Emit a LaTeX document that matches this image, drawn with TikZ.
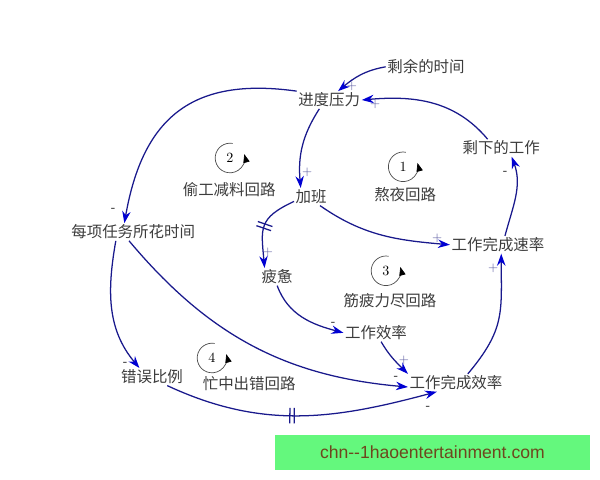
\documentclass[tikz,border=0pt]{standalone}
\usepackage{fontspec}
\usepackage{xcolor}
\usepackage{tikz}
\usetikzlibrary{positioning,arrows.meta,calc}
\newfontfamily\cjk{Noto Sans CJK SC}
\newfontfamily\wmfont{Liberation Sans}
\definecolor{navy}{RGB}{25,25,140}
\definecolor{tipblue}{RGB}{0,0,210}
\definecolor{txt}{RGB}{60,60,60}
\definecolor{sgnp}{RGB}{90,90,160}
\definecolor{wmgreen}{RGB}{100,248,125}
\definecolor{wmtext}{RGB}{110,70,30}

\begin{document}
\begin{tikzpicture}[every node/.style={font=\cjk\fontsize{11}{13}\selectfont},
  var/.style={text=txt, inner sep=1pt},
  lnk/.style={navy, line width=0.9pt, -{Stealth[length=8.5pt,width=6pt,color=tipblue]}},
  sgn/.style={font=\small, inner sep=0pt},
  dly/.style={sloped, inner sep=0pt, text=navy},
  lpnum/.style={font=\normalsize, inner sep=0pt},
  lparc/.style={black!70, line width=0.5pt, -{Triangle[length=6pt,width=4.5pt,color=black]}},
  wm/.style={fill=wmgreen, text=wmtext, inner sep=0pt,
             font=\wmfont\fontsize{12.5}{14}\selectfont,
             minimum width=7.87cm, minimum height=0.88cm}]

  \useasboundingbox (0,0) rectangle (15,12);

  % variables
  \node[var] (time)  at (10.65,10.33) {剩余的时间};
  \node[var] (press) at (8.23, 9.50)  {进度压力};
  \node[var] (left)  at (12.53,8.30)  {剩下的工作};
  \node[var] (ot)    at (7.78, 7.08)  {加班};
  \node[var] (each)  at (3.33, 6.20)  {每项任务所花时间};
  \node[var] (rate)  at (12.45,5.88)  {工作完成速率};
  \node[var] (tired) at (6.93, 5.08)  {疲惫};
  \node[var] (eff)   at (9.40, 3.68)  {工作效率};
  \node[var] (err)   at (3.80, 2.58)  {错误比例};
  \node[var] (done)  at (11.40,2.43)  {工作完成效率};

  % links
  \draw[lnk] (time.west)  to[out=190,in=40] (press.45);
  \draw[lnk] (left.147)   to[out=130,in=5]  (press.east);
  \draw[lnk] (press.222)  to[out=237,in=95] (ot.140);
  \draw[lnk] (press.north west) to[out=172,in=80,looseness=1.25] (each.135);
  \draw[lnk] (ot.-45)     to[out=-35,in=175] (rate.west);
  \draw[lnk] (ot.195)     to[out=205,in=95,looseness=1.4]
    node[pos=.5, dly] (d1) {\rule{0.9pt}{11pt}\hspace{2.2pt}\rule{0.9pt}{11pt}} (tired.145);
  \draw[lnk] (tired.south) to[out=-70,in=165] (eff.west);
  \draw[lnk] (eff.-60)    to[out=-60,in=135] (done.north west);
  \draw[lnk] (each.-115)  to[out=-50,in=175] (done.185);
  \draw[lnk] (each.207)   to[out=-100,in=130] (err.145);
  \draw[lnk] (err.-30)    to[out=-25,in=195]
    node[pos=.47, dly] (d2) {\rule{0.9pt}{11pt}\hspace{2.2pt}\rule{0.9pt}{11pt}} (done.205);
  \draw[lnk] (done.37)    to[out=50,in=-90,looseness=1.2] (rate.-70);
  \draw[lnk] (rate.52)    to[out=75,in=-70] (left.-40);

  % polarity signs
  \foreach \x/\y/\s/\c [count=\i] in {8.80/9.85/+/sgnp, 9.38/9.38/+/sgnp,
      7.68/7.68/+/sgnp, 2.83/6.75/-/black, 10.93/6.05/+/sgnp, 6.70/5.68/+/sgnp,
      8.33/3.90/-/black, 10.10/2.98/+/sgnp, 9.90/2.55/-/black, 3.13/2.90/-/black,
      10.70/1.80/-/black, 12.33/5.28/+/sgnp, 12.63/7.68/-/black}
    \node[sgn, text=\c] (s\i) at (\x,\y) {\s};

  % loops
  \foreach \x/\y/\n/\lx/\ly/\t in {10.08/7.83/1/10.13/7.13/熬夜回路,
      5.75/8.05/2/5.73/7.25/偷工减料回路, 9.65/5.23/3/9.75/4.48/筋疲力尽回路,
      5.30/3.05/4/6.23/2.40/忙中出错回路} {
    \node[lpnum] (loop\n) at (\x,\y) {\n};
    \draw[lparc] ([shift={(80:0.37)}]loop\n.center) arc[start angle=80, end angle=375, radius=0.37];
    \node[var] (lbl\n) at (\lx,\ly) {\t};
  }

  \node[wm] (wm) at (10.81,0.69) {chn--1haoentertainment.com};
\end{tikzpicture}
\end{document}
